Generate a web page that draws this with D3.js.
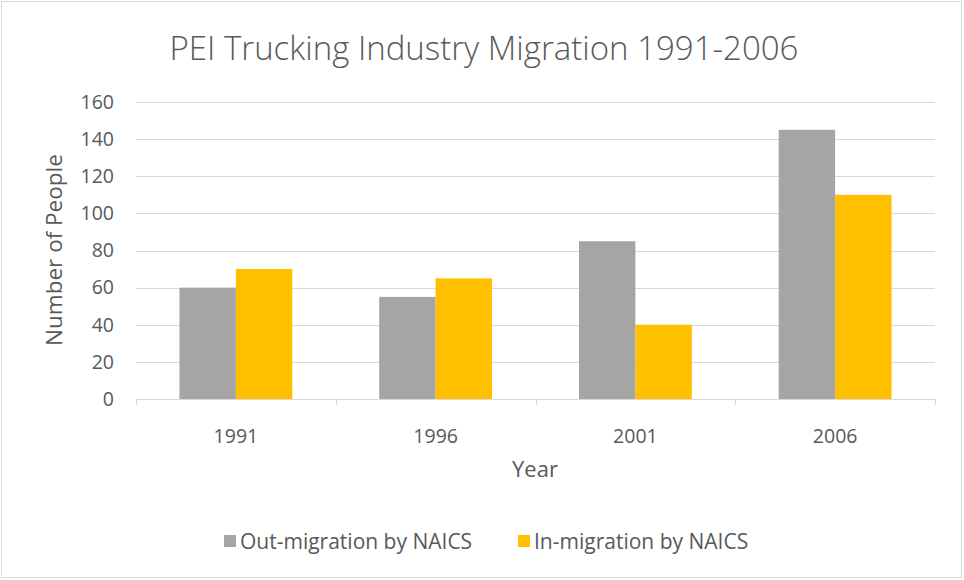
<!DOCTYPE html>
<html><head><meta charset="utf-8">
<script src="https://cdn.jsdelivr.net/npm/d3@7"></script>
<style>body{margin:0;background:#fff;} svg{display:block;font-family:"Open Sans",sans-serif;}</style>
</head><body><svg id="c" width="964" height="580"></svg>
<script>
const years = ["1991","1996","2001","2006"];
const seriesNames = ["Out-migration by NAICS","In-migration by NAICS"];
const outMigration = [60,55,85,145];
const inMigration = [70,65,40,110];
const yTicks = [0,20,40,60,80,100,120,140,160];
const colors = ["#A5A5A5","#FFC000"];

const svg = d3.select("#c");
const txt = "#595959";
svg.append("rect").attr("x",1.5).attr("y",1.5).attr("width",960).attr("height",576).attr("fill","#fff").attr("stroke","#D9D9D9").attr("stroke-width",1);

const L=136,R=935,T=102,B=399;
const x = d3.scaleBand().domain(years).range([L,R]).paddingInner(0).paddingOuter(0);
const x1 = d3.scaleBand().domain([0,1]).range([0,x.bandwidth()]).paddingOuter(0.77).paddingInner(0);
const y = d3.scaleLinear().domain([0,160]).range([B,T]);

// gridlines
svg.append("g").selectAll("line").data(yTicks.filter(d=>d>0)).join("line")
 .attr("x1",L).attr("x2",R).attr("y1",d=>Math.round(y(d))+0.5).attr("y2",d=>Math.round(y(d))+0.5)
 .attr("stroke","#D9D9D9").attr("stroke-width",1);

// y labels
const yAxis = d3.axisLeft(y).tickValues(yTicks).tickSize(0).tickPadding(0);
const gy = svg.append("g").attr("transform",`translate(${L-22},0)`).call(yAxis);
gy.select(".domain").remove();
gy.selectAll("text").attr("fill",txt).style("font-size","19.5px").attr("font-family","Open Sans");

// bars
const data = years.map((yr,i)=>({yr, vals:[outMigration[i],inMigration[i]]}));
const gb = svg.append("g");
gb.selectAll("g").data(data).join("g").attr("transform",d=>`translate(${x(d.yr)},0)`)
 .selectAll("rect").data(d=>d.vals.map((v,j)=>({v,j}))).join("rect")
 .attr("x",d=>x1(d.j)).attr("width",x1.bandwidth())
 .attr("y",d=>y(d.v)).attr("height",d=>y(0)-y(d.v)).attr("fill",d=>colors[d.j]);

// x axis
const xAxis = d3.axisBottom(x).tickSize(0).tickPadding(0);
const gx = svg.append("g").attr("transform",`translate(0,${B})`).call(xAxis);
gx.select(".domain").remove();
gx.selectAll("text").attr("fill",txt).style("font-size","19.5px").attr("font-family","Open Sans").attr("dy","0").attr("y",44);
svg.append("line").attr("x1",L).attr("x2",R).attr("y1",B+0.5).attr("y2",B+0.5).attr("stroke","#D9D9D9");
const bounds = years.map(d=>x(d)).concat([R]);
svg.append("g").selectAll("line").data(bounds).join("line")
 .attr("x1",d=>Math.round(d)+0.5).attr("x2",d=>Math.round(d)+0.5).attr("y1",B).attr("y2",B+6).attr("stroke","#D9D9D9");

// titles
svg.append("text").attr("x",484).attr("y",60).attr("text-anchor","middle").attr("fill",txt)
 .style("font-size","33px").style("font-weight","300").text("PEI Trucking Industry Migration 1991-2006");
svg.append("text").attr("x",535).attr("y",477).attr("text-anchor","middle").attr("fill",txt)
 .style("font-size","22px").text("Year");
svg.append("text").attr("transform","translate(62,250) rotate(-90)").attr("text-anchor","middle").attr("fill",txt)
 .style("font-size","22.5px").text("Number of People");

// legend
const lg = svg.append("g");
const lx = [224,518];
seriesNames.forEach((n,i)=>{
  lg.append("rect").attr("x",lx[i]).attr("y",535).attr("width",12).attr("height",12).attr("fill",colors[i]);
  lg.append("text").attr("x",lx[i]+16).attr("y",549).attr("fill",txt).style("font-size","21px").text(n);
});
</script></body></html>
